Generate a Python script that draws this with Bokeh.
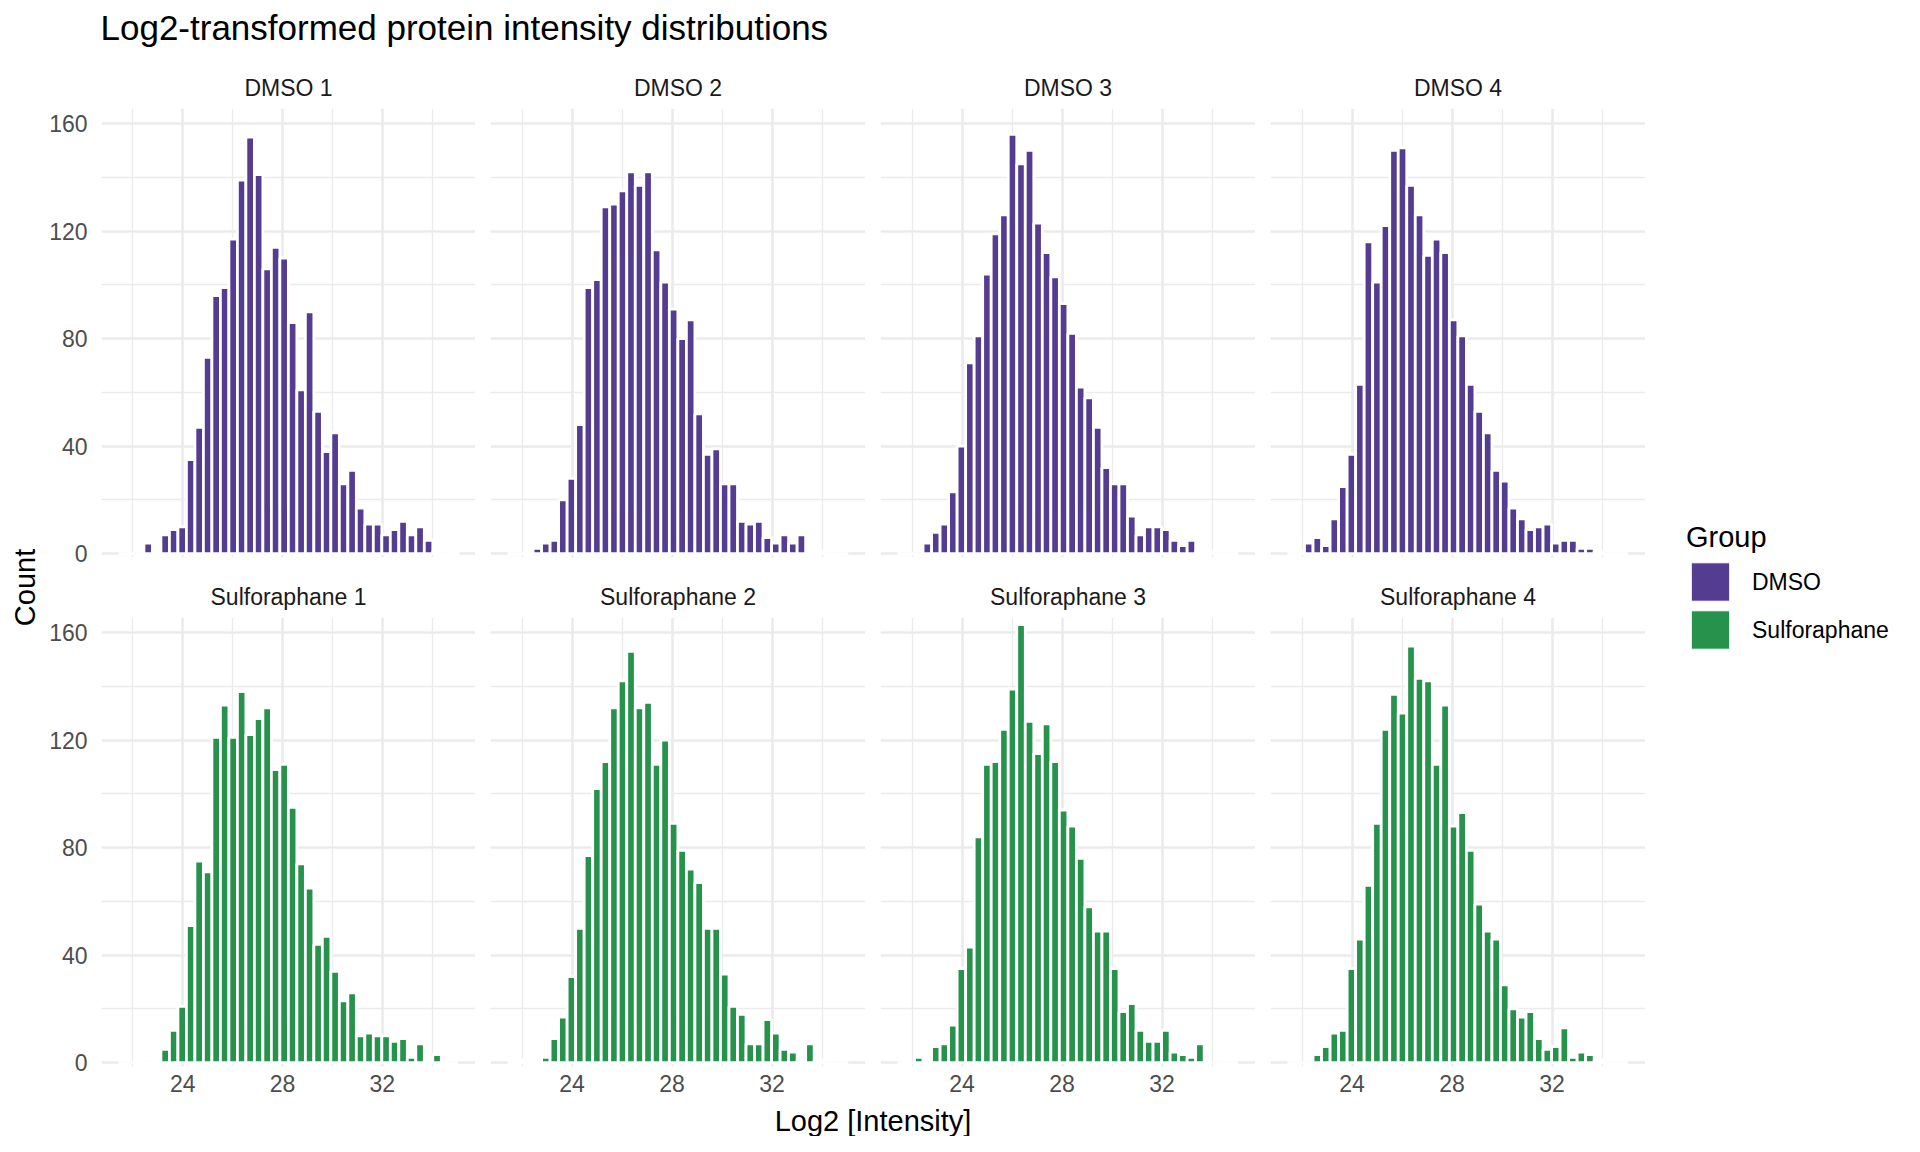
from bokeh.plotting import figure
from bokeh.models import (Range1d, FixedTicker, Grid, LinearAxis, Title, Legend,
                          LegendItem, ColumnDataSource)
from bokeh.layouts import row, column
from bokeh.embed import file_html
from bokeh.resources import INLINE

# ---------------- data ----------------
samples = ["DMSO 1", "DMSO 2", "DMSO 3", "DMSO 4",
           "Sulforaphane 1", "Sulforaphane 2", "Sulforaphane 3", "Sulforaphane 4"]
groups = ["DMSO", "DMSO", "DMSO", "DMSO",
          "Sulforaphane", "Sulforaphane", "Sulforaphane", "Sulforaphane"]

# histogram bins shared by all facets (log2 intensity)
bin_lo = 21.42
bin_hi = 35.05
n_bins = 40

dmso_1 = [0, 0, 0, 4, 1, 7, 9, 10, 35, 47, 73, 96, 99, 117, 139, 155, 141, 106, 114, 110,
          86, 61, 90, 53, 38, 45, 26, 31, 17, 11, 11, 7, 9, 12, 7, 10, 5, 1, 0, 1]
dmso_2 = [0, 0, 1, 2, 4, 5, 20, 28, 48, 99, 102, 129, 130, 135, 142, 137, 142, 113, 101, 91,
          80, 87, 52, 37, 39, 26, 26, 12, 11, 12, 6, 4, 7, 4, 7, 0, 1, 0, 0, 0]
dmso_3 = [0, 0, 0, 4, 8, 11, 23, 40, 71, 81, 104, 119, 126, 156, 145, 150, 123, 112, 103, 93,
          82, 62, 58, 47, 32, 26, 26, 14, 7, 10, 10, 9, 5, 3, 5, 1, 1, 0, 0, 0]
dmso_4 = [0, 1, 4, 6, 3, 13, 25, 37, 63, 116, 101, 122, 150, 151, 137, 126, 111, 117, 112, 87,
          81, 63, 53, 45, 31, 27, 17, 13, 9, 10, 11, 4, 5, 5, 2, 2, 1, 0, 0, 0]
sulf_1 = [0, 0, 1, 0, 1, 5, 12, 21, 51, 75, 71, 121, 133, 121, 138, 122, 128, 132, 109, 111,
          95, 74, 65, 44, 47, 34, 23, 26, 10, 11, 10, 10, 8, 9, 2, 7, 1, 3, 0, 0]
sulf_2 = [0, 1, 0, 1, 2, 9, 17, 32, 50, 77, 102, 112, 132, 142, 153, 132, 134, 111, 120, 89,
          79, 72, 67, 50, 50, 33, 21, 18, 7, 7, 16, 11, 5, 4, 1, 7, 1, 0, 0, 0]
sulf_3 = [0, 0, 2, 1, 6, 7, 14, 35, 43, 84, 111, 112, 124, 139, 163, 127, 115, 126, 112, 94,
          88, 76, 58, 49, 49, 35, 19, 22, 12, 8, 8, 12, 4, 3, 2, 7, 0, 0, 0, 0]
sulf_4 = [0, 0, 0, 3, 6, 11, 12, 35, 46, 66, 89, 124, 137, 130, 155, 143, 142, 111, 133, 88,
          93, 79, 59, 49, 46, 29, 20, 17, 19, 9, 5, 6, 13, 2, 4, 3, 1, 0, 0, 0]
all_counts = [dmso_1, dmso_2, dmso_3, dmso_4, sulf_1, sulf_2, sulf_3, sulf_4]

x_major = [24, 28, 32]
x_minor = [22, 26, 30, 34]
y_major = [0, 40, 80, 120, 160]
y_minor = [20, 60, 100, 140]

group_colors = {"DMSO": "#543C91", "Sulforaphane": "#27924C"}

# ---------------- styling ----------------
FONT = "Liberation Sans"
GRID_COL = "#EBEBEB"
FRAME_W = 375
FRAME_H = 449

edges = [bin_lo + i * (bin_hi - bin_lo) / n_bins for i in range(n_bins + 1)]


def style_axis(ax):
    ax.axis_line_color = None
    ax.major_tick_line_color = None
    ax.minor_tick_line_color = None
    ax.major_tick_out = 0
    ax.major_tick_in = 0
    ax.minor_tick_out = 0
    ax.minor_tick_in = 0
    ax.major_label_text_font = FONT
    ax.major_label_text_font_size = "23px"
    ax.major_label_text_color = "#4D4D4D"


def make_panel(name, counts, color, col, row_idx):
    left_b = 54 if col == 0 else 15
    top_b = 44 if row_idx == 0 else 50
    bottom_b = 10 if row_idx == 0 else 36
    p = figure(width=left_b + FRAME_W, height=top_b + FRAME_H + bottom_b,
               x_range=Range1d(20.74, 35.74), y_range=Range1d(-1.4, 165.6),
               x_axis_location=None, y_axis_location=None,
               toolbar_location=None, output_backend="svg",
               min_border_left=left_b, min_border_right=0,
               min_border_top=top_b, min_border_bottom=bottom_b,
               title=name)
    p.center = []
    p.outline_line_color = None
    p.background_fill_color = "white"
    p.border_fill_color = "white"

    xg = Grid(dimension=0, ticker=FixedTicker(ticks=x_major, minor_ticks=x_minor),
              grid_line_color=GRID_COL, grid_line_width=2.6,
              minor_grid_line_color=GRID_COL, minor_grid_line_width=1.3)
    yg = Grid(dimension=1, ticker=FixedTicker(ticks=y_major, minor_ticks=y_minor),
              grid_line_color=GRID_COL, grid_line_width=2.6,
              minor_grid_line_color=GRID_COL, minor_grid_line_width=1.3)
    p.add_layout(xg, "center")
    p.add_layout(yg, "center")

    if col == 0:
        ya = LinearAxis(ticker=FixedTicker(ticks=y_major, minor_ticks=y_minor))
        style_axis(ya)
        ya.major_label_standoff = 14
        p.add_layout(ya, "left")
    if row_idx == 1:
        xa = LinearAxis(ticker=FixedTicker(ticks=x_major, minor_ticks=x_minor))
        style_axis(xa)
        xa.major_label_standoff = 8
        p.add_layout(xa, "below")

    p.quad(left=edges[:-1], right=edges[1:], bottom=0, top=counts,
           fill_color=color, line_color="white", line_width=2.8)

    p.title.align = "center"
    p.title.text_font = FONT
    p.title.text_font_size = "23px"
    p.title.text_font_style = "normal"
    p.title.text_color = "#1A1A1A"
    p.title.standoff = 15
    return p


panels = []
for k, (name, counts, grp) in enumerate(zip(samples, all_counts, groups)):
    panels.append(make_panel(name, counts, group_colors[grp], k % 4, k // 4))


def blank_fig(w, h, **kw):
    f = figure(width=w, height=h, toolbar_location=None, output_backend="svg",
               x_axis_location=None, y_axis_location=None, **kw)
    f.center = []
    f.outline_line_color = None
    f.background_fill_color = "white"
    f.border_fill_color = "white"
    return f


# header with main title
header = blank_fig(1904, 64, min_border_left=100, min_border_right=0,
                   min_border_top=0, min_border_bottom=0,
                   title="Log2-transformed protein intensity distributions")
header.title.align = "left"
header.title.text_font = FONT
header.title.text_font_size = "35px"
header.title.text_font_style = "normal"
header.title.text_color = "black"
header.title.standoff = 10

# left y-axis title
count_fig = blank_fig(46, 1038, min_border_left=41, min_border_right=0,
                      min_border_top=44, min_border_bottom=36)
count_fig.add_layout(Title(text="Count", align="center", text_font=FONT,
                           text_font_size="29px", text_font_style="normal",
                           text_color="black", standoff=2), "left")

# bottom x-axis title
footer = blank_fig(1904, 34, min_border_left=100, min_border_right=259,
                   min_border_top=0, min_border_bottom=0, title="Log2 [Intensity]")
footer.title.align = "center"
footer.title.text_font = FONT
footer.title.text_font_size = "29px"
footer.title.text_font_style = "normal"
footer.title.text_color = "black"
footer.title.standoff = 0

# legend
legend_fig = blank_fig(259, 1038, min_border_left=0, min_border_right=0,
                       min_border_top=0, min_border_bottom=12)
leg_items = []
for grp in ["DMSO", "Sulforaphane"]:
    nan = float("nan")
    src = ColumnDataSource(dict(left=[nan], right=[nan], top=[nan], bottom=[nan]))
    r = legend_fig.quad(left="left", right="right", top="top", bottom="bottom", source=src,
                        fill_color=group_colors[grp], line_color="white", line_width=1)
    leg_items.append(LegendItem(label=grp, renderers=[r]))
legend = Legend(items=leg_items, location="left", title="Group",
                margin=41, padding=0, spacing=0, glyph_width=48, glyph_height=48,
                label_standoff=18, label_text_font=FONT, label_text_font_size="23px",
                label_text_color="black", title_text_font=FONT,
                title_text_font_size="29px", title_text_font_style="normal",
                title_text_color="black", title_standoff=4,
                border_line_color=None, background_fill_alpha=0)
legend_fig.add_layout(legend, "center")

grid_block = column(row(*panels[:4]), row(*panels[4:]))
body = row(count_fig, grid_block, legend_fig)
page = column(header, body, footer)

open("out.html", "w").write(file_html(page, INLINE, title="Log2 intensity distributions"))
